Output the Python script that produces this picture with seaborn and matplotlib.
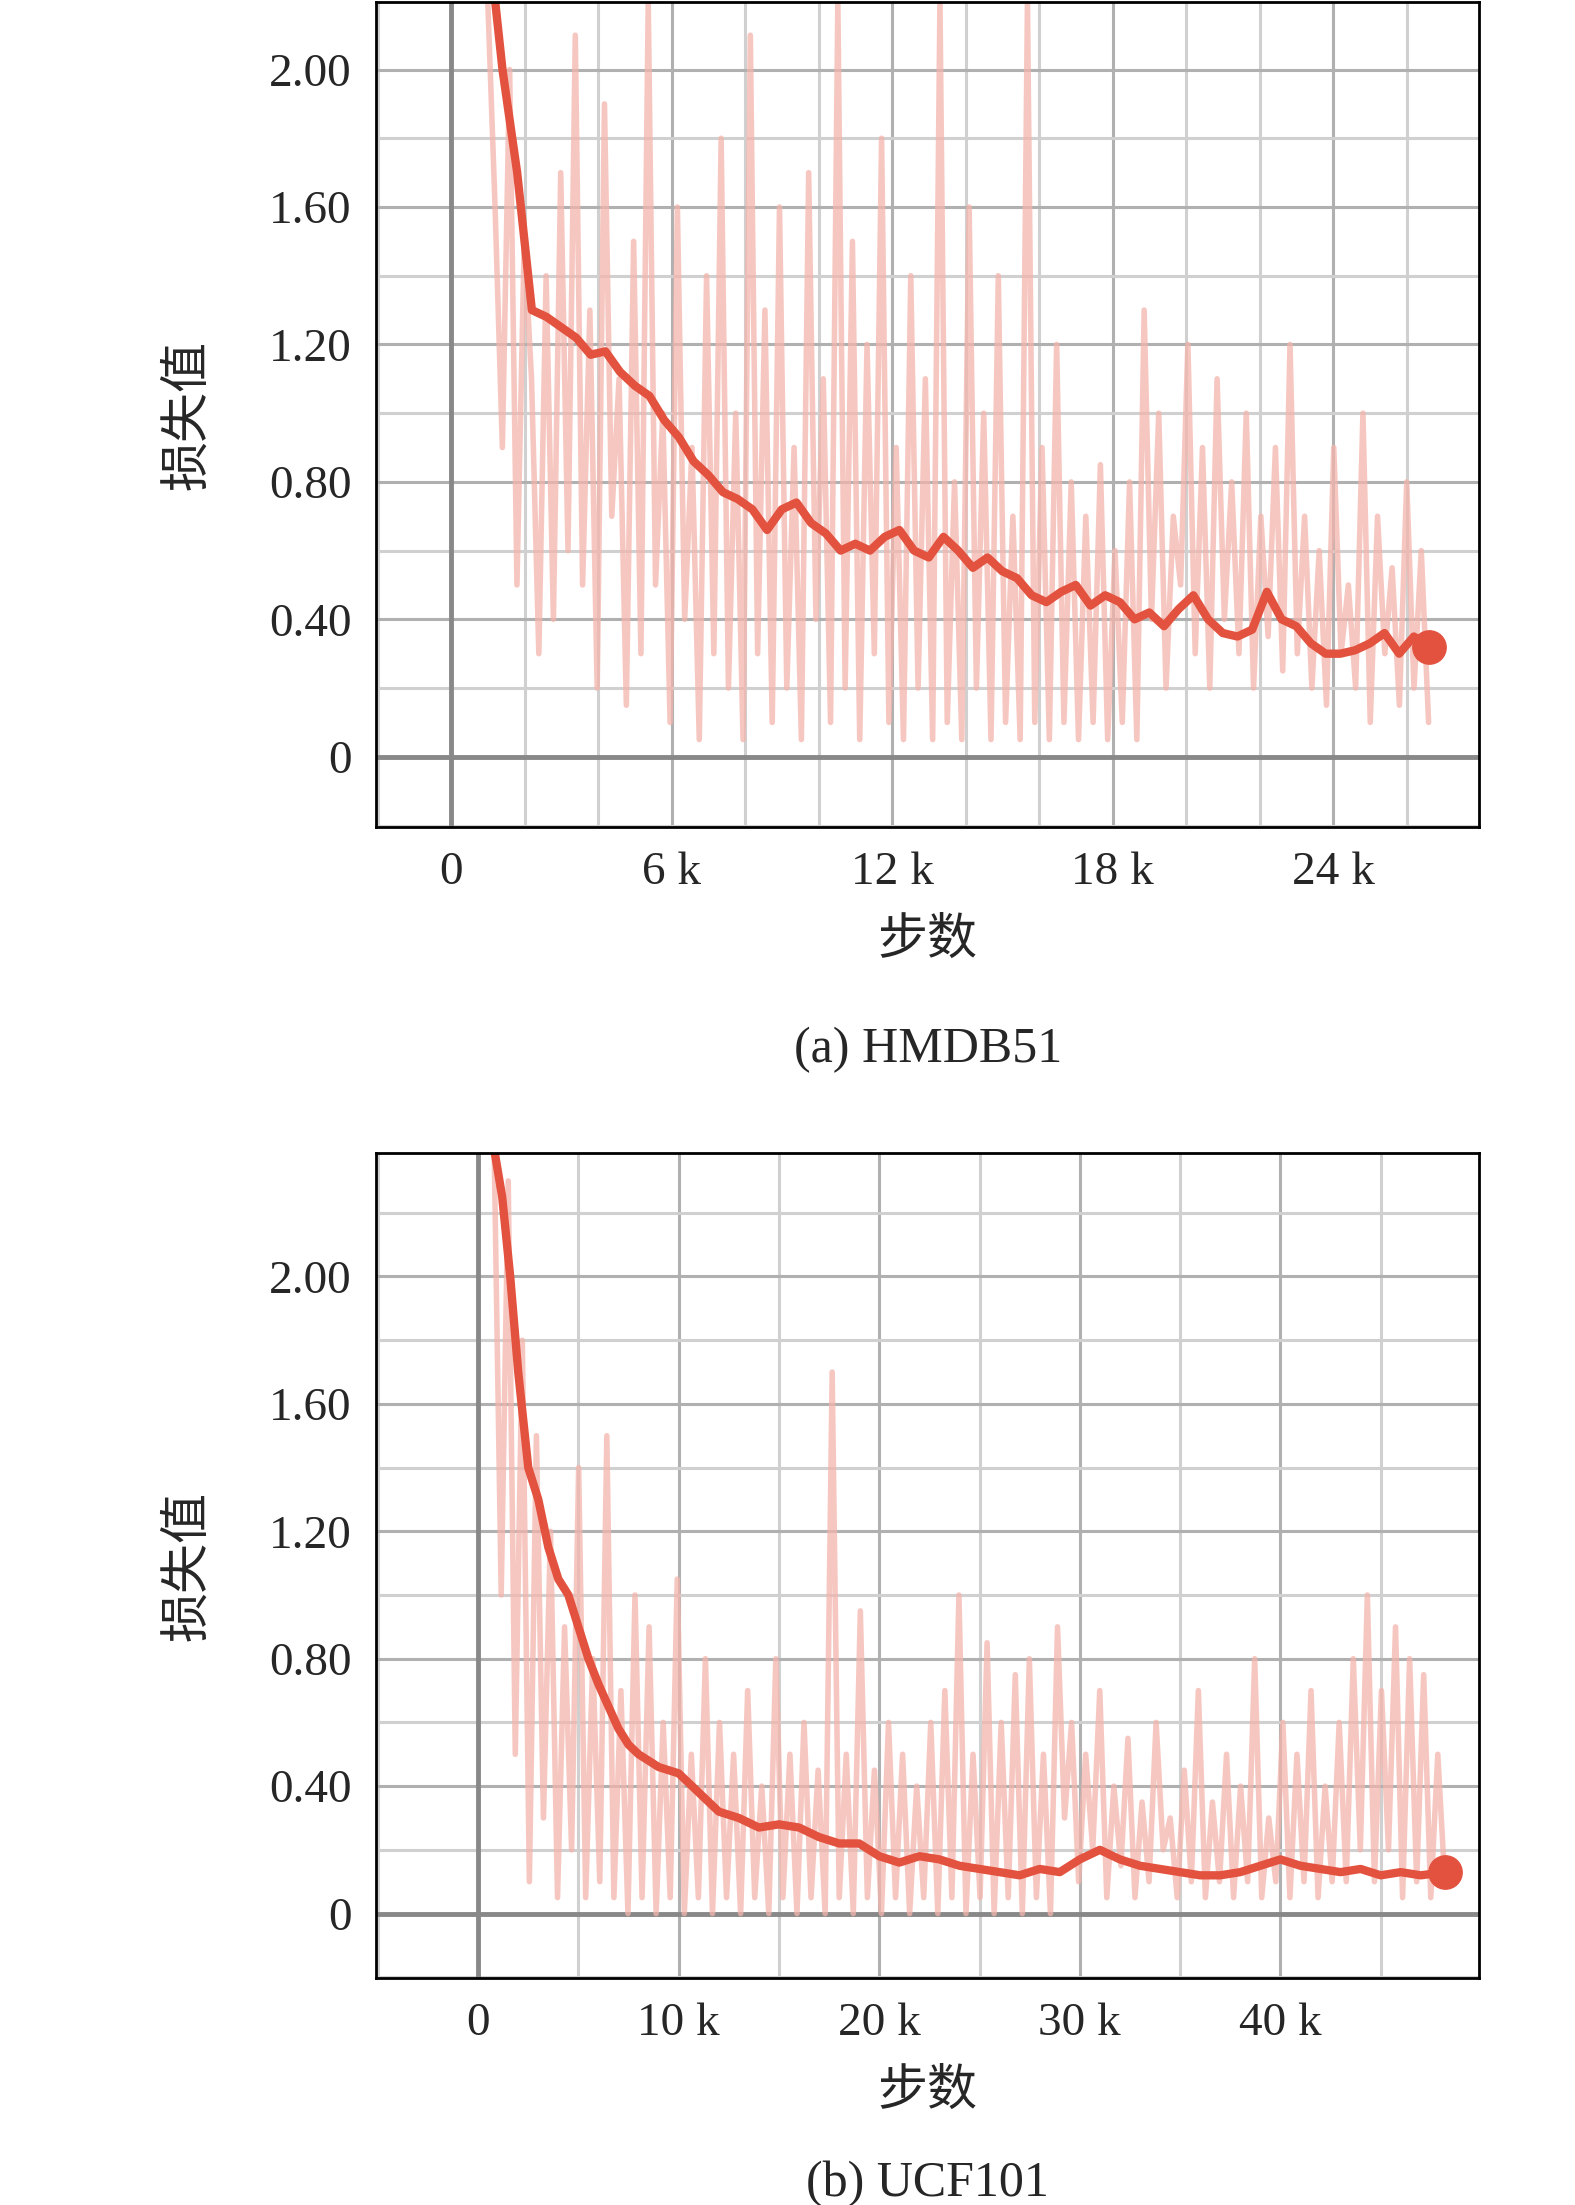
import numpy as np
import matplotlib
matplotlib.use("Agg")
import matplotlib.pyplot as plt
import seaborn as sns
from matplotlib.ticker import MultipleLocator, FuncFormatter

sns.set_theme(style="white")
plt.rcParams['font.family'] = ['Liberation Serif', 'Noto Sans CJK SC']

# HMDB51
a_smooth_x = [1.2,1.4,1.6,1.8,2.0,2.2,2.6,3.0,3.4,3.8,4.2,4.6,5.0,5.4,5.8,6.2,6.6,7.0,7.4,7.8,8.2,8.6,9.0,9.4,9.8,10.2,10.6,11.0,11.4,11.8,12.2,12.6,13.0,13.4,13.8,14.2,14.6,15.0,15.4,15.8,16.2,16.6,17.0,17.4,17.8,18.2,18.6,19.0,19.4,19.8,20.2,20.6,21.0,21.4,21.8,22.2,22.6,23.0,23.4,23.8,24.2,24.6,25.0,25.4,25.8,26.2,26.6]
a_smooth_y = [2.2,2.0,1.85,1.7,1.5,1.3,1.28,1.25,1.22,1.17,1.18,1.12,1.08,1.05,0.98,0.93,0.86,0.82,0.77,0.75,0.72,0.66,0.72,0.74,0.68,0.65,0.6,0.62,0.6,0.64,0.66,0.6,0.58,0.64,0.6,0.55,0.58,0.54,0.52,0.47,0.45,0.48,0.5,0.44,0.47,0.45,0.4,0.42,0.38,0.43,0.47,0.4,0.36,0.35,0.37,0.48,0.4,0.38,0.33,0.3,0.3,0.31,0.33,0.36,0.3,0.35,0.32]
a_raw = [2.2,1.6,0.9,2.0,0.5,1.5,1.1,0.3,1.4,0.4,1.7,0.6,2.1,0.5,1.3,0.2,1.9,0.7,1.1,0.15,1.5,0.3,2.2,0.5,1.0,0.1,1.6,0.4,0.9,0.05,1.4,0.3,1.8,0.2,1.0,0.05,2.1,0.3,1.3,0.1,1.6,0.2,0.9,0.05,1.7,0.4,1.1,0.1,2.2,0.2,1.5,0.05,1.2,0.3,1.8,0.1,0.9,0.05,1.4,0.2,1.1,0.05,2.2,0.1,0.8,0.05,1.6,0.2,1.0,0.05,1.4,0.1,0.7,0.05,2.2,0.1,0.9,0.05,1.2,0.1,0.8,0.05,0.7,0.1,0.85,0.05,0.6,0.1,0.8,0.05,
         1.3,0.4,1.0,0.2,0.7,0.5,1.2,0.3,0.9,0.2,1.1,0.4,0.8,0.3,1.0,0.2,0.7,0.35,0.9,0.25,1.2,0.3,0.7,0.2,0.6,0.15,0.9,0.3,0.5,0.2,1.0,0.1,0.7,0.3,0.55,0.15,0.8,0.2,0.6,0.1]
# UCF101
b_smooth_x = [0.8,1.2,1.6,2.0,2.5,3.0,3.5,4.0,4.5,5.0,5.5,6.0,6.5,7.0,7.5,8.0,9.0,10.0,11.0,12.0,13.0,14.0,15.0,16.0,17.0,18.0,19.0,20.0,21.0,22.0,23.0,24.0,25.0,26.0,27.0,28.0,29.0,30.0,31.0,32.0,33.0,34.0,35.0,36.0,37.0,38.0,39.0,40.0,41.0,42.0,43.0,44.0,45.0,46.0,47.0,48.2]
b_smooth_y = [2.4,2.25,2.0,1.7,1.4,1.3,1.15,1.05,1.0,0.9,0.8,0.72,0.65,0.58,0.53,0.5,0.46,0.44,0.38,0.32,0.3,0.27,0.28,0.27,0.24,0.22,0.22,0.18,0.16,0.18,0.17,0.15,0.14,0.13,0.12,0.14,0.13,0.17,0.2,0.17,0.15,0.14,0.13,0.12,0.12,0.13,0.15,0.17,0.15,0.14,0.13,0.14,0.12,0.13,0.12,0.13]
b_raw = [2.4,1.0,2.3,0.5,1.8,0.1,1.5,0.3,1.2,0.05,0.9,0.2,1.4,0.05,0.8,0.1,1.5,0.05,0.7,0.0,1.0,0.05,0.9,0.0,0.6,0.05,1.05,0.0,0.5,0.05,0.8,0.0,0.6,0.05,0.5,0.0,0.7,0.05,0.4,0.0,0.8,0.05,0.5,0.0,0.6,0.05,0.45,0.0,1.7,0.05,0.5,0.0,0.95,0.05,0.45,0.0,0.6,0.05,0.5,0.0,0.4,0.05,0.6,0.0,0.7,0.05,1.0,0.0,0.5,0.05,0.85,0.0,0.6,0.05,0.75,0.0,0.8,0.05,0.5,0.0,
         0.9,0.3,0.6,0.1,0.5,0.2,0.7,0.05,0.4,0.15,0.55,0.05,0.35,0.1,0.6,0.2,0.3,0.05,0.45,0.1,0.7,0.05,0.35,0.1,0.5,0.05,0.4,0.1,0.8,0.05,0.3,0.1,0.6,0.05,0.5,0.1,0.7,0.05,0.4,0.1,
         0.6,0.1,0.8,0.2,1.0,0.1,0.7,0.2,0.9,0.05,0.8,0.1,0.75,0.05,0.5,0.1]

fig = plt.figure(figsize=(15.75, 22.05), dpi=100)
axA = fig.add_axes([0.239, 0.625, 0.70, 0.374])
axB = fig.add_axes([0.239, 0.103, 0.70, 0.374])

line_c = '#e2523f'
raw_c = '#f4b5ac'

def draw(ax, sx, sy, raw, xlim, ylim, xmaj, xmin, lab, rawx, laby):
    ax.xaxis.set_major_locator(MultipleLocator(xmaj))
    ax.xaxis.set_minor_locator(MultipleLocator(xmin))
    ax.yaxis.set_major_locator(MultipleLocator(0.4))
    ax.yaxis.set_minor_locator(MultipleLocator(0.2))
    ax.grid(which='major', color='#b0b0b0', lw=2.2)
    ax.grid(which='minor', color='#d0d0d0', lw=2.2)
    ax.axhline(0, color='#888888', lw=3.5)
    ax.axvline(0, color='#888888', lw=3.5)
    xr = np.linspace(rawx[0], rawx[1], len(raw))
    ax.plot(xr, raw, color=raw_c, lw=4, alpha=0.75)
    sns.lineplot(x=sx, y=sy, ax=ax, color=line_c, lw=6, sort=False)
    ax.plot(sx[-1], sy[-1], 'o', color=line_c, ms=24)
    ax.set_xlim(*xlim); ax.set_ylim(*ylim)
    ax.xaxis.set_major_formatter(FuncFormatter(lambda v, p: '0' if v == 0 else f'{int(v)} k'))
    ax.yaxis.set_major_formatter(FuncFormatter(lambda v, p: '0' if abs(v) < 1e-9 else f'{v:.2f}'))
    ax.tick_params(axis='both', labelsize=34, length=0, pad=18)
    for s in ax.spines.values():
        s.set_color('black'); s.set_linewidth(2)
    ax.set_xlabel('步数', fontsize=36, labelpad=14, family=['Noto Sans CJK SC'])
    ax.set_ylabel('损失值', fontsize=36, labelpad=40, family=['Noto Sans CJK SC'])
    ax.text(0.5, laby, lab, transform=ax.transAxes, ha='center', va='center', fontsize=36)

draw(axA, a_smooth_x, a_smooth_y, a_raw, (-2.03, 27.97), (-0.204, 2.196), 6, 2, '(a) HMDB51', (1.0, 26.6), -0.27)
draw(axB, b_smooth_x, b_smooth_y, b_raw, (-5.07, 49.9), (-0.202, 2.387), 10, 5, '(b) UCF101', (0.8, 48.2), -0.25)
fig.savefig('out.png', dpi=100)
